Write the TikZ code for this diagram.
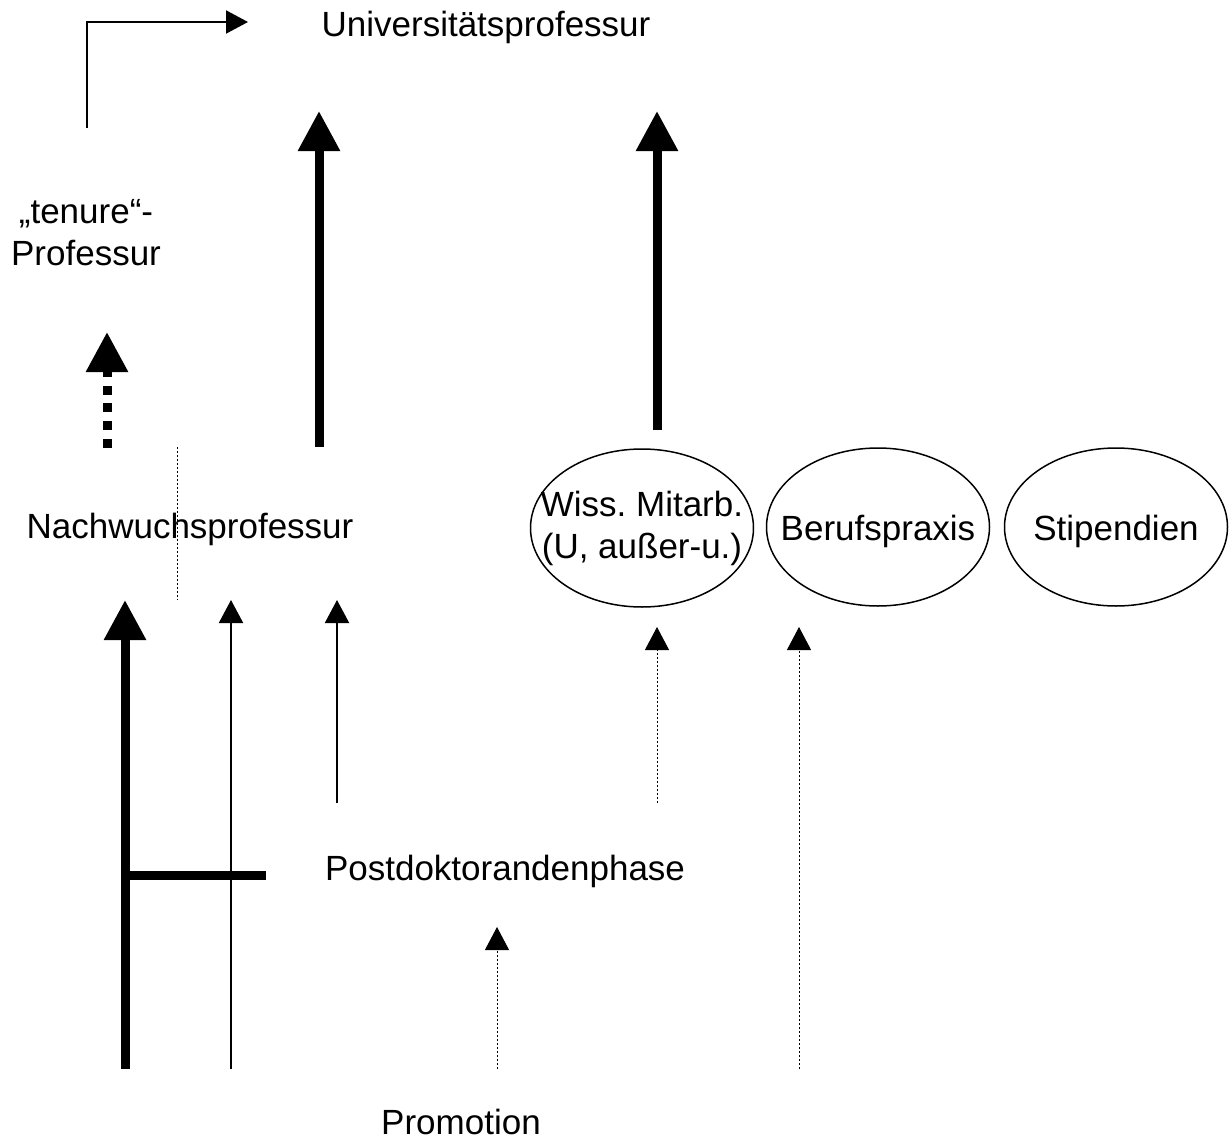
\documentclass[tikz,border=0pt]{standalone}
\usepackage{fontspec}
\setmainfont{Liberation Sans}
\usetikzlibrary{arrows.meta,shapes.geometric}
\frenchspacing

\tikzset{
	bigtip/.style={-{Triangle[width=20pt,length=20pt]}},
	smalltip/.style={-{Triangle[width=12pt,length=11.5pt]}},
	heavy/.style={line width=4.5pt},
	fine/.style={line width=1pt},
	faint/.style={line width=0.5pt,dash pattern=on 1pt off 1pt},
	bubble/.style={draw,ellipse,line width=0.75pt,minimum width=111.5pt,minimum height=79pt}
}

\begin{document}
\begin{tikzpicture}[x=0.5pt,y=-0.5pt,every node/.style={font=\fontsize{17.5pt}{20.75pt}\selectfont,inner sep=0pt}]
				\useasboundingbox (0,0) rectangle (1232,1141);
				
				% Texte
				\node[anchor=base] (uniprof) at (486,36) {Universitätsprofessur};
				\node[align=center,font=\fontsize{17.5pt}{21pt}\selectfont] (tenure) at (86,233) {„tenure“-\\Professur};
				\node[anchor=base] (nachwuchs) at (190,538) {Nachwuchsprofessur};
				\node[anchor=base] (postdoc) at (505,880) {Postdoktorandenphase};
				\node[anchor=base] (promotion) at (461,1134) {Promotion};
				
				% Ellipsen
				\node[bubble] (wiss) at (642,528) {};
				\node[align=center,font=\fontsize{17.5pt}{21pt}\selectfont] (wisstxt) at (wiss.center) {Wiss. Mitarb.\\(U, außer-u.)};
				\node[bubble] (beruf) at (878,527) {};
				\node[anchor=base] (beruftxt) at (878,540) {Berufspraxis};
				\node[bubble] (stip) at (1116,527) {};
				\node[anchor=base] (stiptxt) at (1116,540) {Stipendien};
				
				% Punkte
				\coordinate (e1) at (87,128);
				\coordinate (e2) at (248,22);
				\coordinate (t1) at (107,448);
				\coordinate (t2) at (107,332);
				\coordinate (d1) at (177,447);
				\coordinate (d2) at (177,600);
				\coordinate (u1) at (319,447);
				\coordinate (u2) at (319,111);
				\coordinate (w1) at (657,430);
				\coordinate (w2) at (657,111);
				\coordinate (h1) at (125,1069);
				\coordinate (h2) at (125,600);
				\coordinate (hq1) at (125,875);
				\coordinate (hq2) at (266,875);
				\coordinate (f1) at (231,1069);
				\coordinate (f2) at (231,600);
				\coordinate (g1) at (337,803);
				\coordinate (g2) at (337,600);
				\coordinate (m1) at (657,803);
				\coordinate (m2) at (657,627);
				\coordinate (b1) at (799,1069);
				\coordinate (b2) at (799,627);
				\coordinate (p1) at (497,1069);
				\coordinate (p2) at (497,927);
				
				% Pfeile
				\draw[fine,-{Triangle[width=11.5pt,length=11pt]}] (e1) |- (e2);
				\draw[line width=4.5pt,dash pattern=on 4.5pt off 4.4pt,bigtip] (t1) -- (t2);
				\draw[faint] (d1) -- (d2);
				\draw[heavy,bigtip] (u1) -- (u2);
				\draw[heavy,bigtip] (w1) -- (w2);
				\draw[heavy,bigtip] (h1) -- (h2);
				\draw[heavy] (hq1) -- (hq2);
				\draw[fine,smalltip] (f1) -- (f2);
				\draw[fine,smalltip] (g1) -- (g2);
				\draw[faint,smalltip] (m1) -- (m2);
				\draw[faint,smalltip] (b1) -- (b2);
				\draw[faint,smalltip] (p1) -- (p2);
			\end{tikzpicture}
\end{document}
